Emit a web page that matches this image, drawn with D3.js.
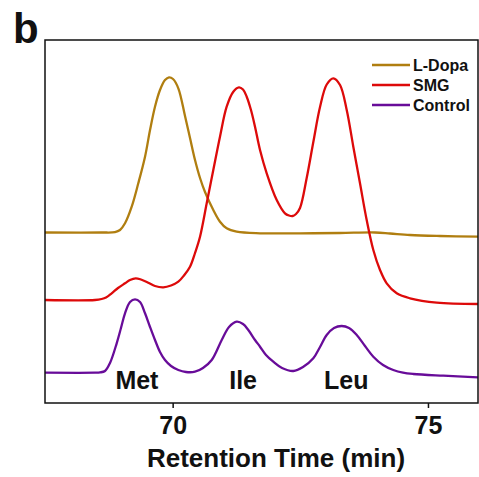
<!DOCTYPE html>
<html><head><meta charset="utf-8">
<script src="https://d3js.org/d3.v7.min.js"></script>
<style>body{margin:0;background:#fff}svg{display:block}text{font-family:"Liberation Sans",Arial,sans-serif;font-weight:bold}</style>
</head><body>
<script>
// Retention time (min) and signal (a.u.) for each trace
const ldopaTime = [67.500,68.600,68.871,68.969,69.067,69.198,69.327,69.459,69.557,69.654,69.752,69.850,69.929,70.007,70.111,70.242,70.340,70.438,70.536,70.634,70.796,70.927,71.058,71.254,71.711,72.494,73.278,73.963,74.257,74.648,75.236,75.980];
const ldopaSignal = [170.5,170.5,170.9,173,179.7,196.3,219.7,246.3,273,296.3,313,323,325.7,324,314.7,287,265,243,225,211,193,181.3,174.7,171.3,169.7,169.7,170,170.5,169.5,168,167,166.3];

const smgTime = [67.500,68.479,68.610,68.695,68.806,68.930,69.067,69.165,69.276,69.380,69.523,69.654,69.817,69.968,70.111,70.222,70.340,70.438,70.536,70.667,70.796,70.927,71.058,71.188,71.299,71.378,71.450,71.534,71.613,71.711,71.842,72.038,72.200,72.278,72.351,72.416,72.494,72.625,72.755,72.886,73.017,73.147,73.278,73.409,73.538,73.669,73.800,73.930,74.061,74.192,74.388,74.648,75.171,75.980];
const smgSignal = [103,103,104,105.5,109.7,115,119.7,123,124.7,123.5,120.3,117,115.7,117.5,121.3,127.5,136.3,150,166.3,199.7,233,266.3,296.3,311.3,315.7,313.5,306.3,293,276.3,253,229.7,203,189.7,187.5,187,189,195,225,261,296,318.5,324.7,318,293,256.3,219.7,183,153,133,119.7,109.7,104.7,100.3,99];

const controlTime = [67.500,68.480,68.577,68.675,68.773,68.904,68.988,69.067,69.165,69.263,69.361,69.459,69.557,69.654,69.752,69.850,69.968,70.111,70.261,70.438,70.594,70.765,70.961,71.104,71.254,71.378,71.482,71.613,71.711,71.828,71.971,72.142,72.363,72.553,72.755,72.886,73.017,73.160,73.311,73.454,73.605,73.767,73.930,74.120,74.321,74.511,74.713,75.301,75.980];
const controlSignal = [30.3,30.3,30.6,32,40,59.7,75,89.7,101,103.7,101,89.7,76,63,51,43,37,33,31,31.3,35,43,63,76,81.3,79,73,63,56.3,48,41.3,35,32,36,44.7,56,68,75,77,75,68,57,46.3,38,33,30.3,29,27.3,25.7];

const seriesNames = ["L-Dopa","SMG","Control"];
const seriesColors = ["#B07E10","#DD0A0A","#680C99"];
const xTicks = [70,75];
const peakLabels = ["Met","Ile","Leu"];
const peakTimes = [69.30,71.38,73.40];
const xTitle = "Retention Time (min)";
const panelLetter = "b";

const W = 479, H = 477;
const svg = d3.select("body").append("svg").attr("width",W).attr("height",H);
const x = d3.scaleLinear().domain([67.5,75.98]).range([45,478]);
const y = d3.scaleLinear().domain([0,363]).range([403,40]);

const series = [
  {name:seriesNames[0], t:ldopaTime, v:ldopaSignal, c:seriesColors[0]},
  {name:seriesNames[1], t:smgTime, v:smgSignal, c:seriesColors[1]},
  {name:seriesNames[2], t:controlTime, v:controlSignal, c:seriesColors[2]}
];
const line = d3.line().x(d=>x(d[0])).y(d=>y(d[1])).curve(d3.curveCatmullRom.alpha(0.5));

svg.append("defs").append("clipPath").attr("id","clip")
  .append("rect").attr("x",45).attr("y",40).attr("width",433).attr("height",363);
const g = svg.append("g").attr("clip-path","url(#clip)");
[series[2],series[0],series[1]].forEach(s=>{
  g.append("path").datum(s.t.map((t,i)=>[t,s.v[i]]))
    .attr("d",line).attr("fill","none").attr("stroke",s.c).attr("stroke-width",2.3)
    .attr("stroke-linejoin","round");
});

// frame
svg.append("rect").attr("x",45).attr("y",40).attr("width",433).attr("height",363)
  .attr("fill","none").attr("stroke","#111").attr("stroke-width",1.5);

// x axis
const xAxis = d3.axisBottom(x).tickValues(xTicks).tickSize(5).tickPadding(4).tickSizeOuter(0);
const ax = svg.append("g").attr("transform","translate(0,403)").call(xAxis);
ax.select(".domain").remove();
ax.selectAll(".tick line").attr("stroke","#111").attr("stroke-width",1.5);
ax.selectAll(".tick text").attr("font-size",25).attr("fill","#111")
  .attr("font-family","Liberation Sans, Arial, sans-serif").attr("font-weight","bold")
  .attr("dy",null).attr("y",31);

svg.append("text").attr("x",276).attr("y",467).attr("text-anchor","middle")
  .attr("font-size",26).attr("fill","#111").text(xTitle);

// peak labels
peakLabels.forEach((p,i)=>{
  svg.append("text").attr("x",x(peakTimes[i])).attr("y",389).attr("text-anchor","middle")
    .attr("font-size",25).attr("fill","#111").text(p);
});

// legend
series.forEach((s,i)=>{
  const yy = 65 + i*20;
  svg.append("line").attr("x1",372).attr("x2",410).attr("y1",yy).attr("y2",yy)
    .attr("stroke",s.c).attr("stroke-width",2.3);
  svg.append("text").attr("x",413).attr("y",yy+5.5).attr("font-size",16).attr("fill","#111").text(s.name);
});

svg.append("text").attr("x",13).attr("y",43).attr("font-size",42).attr("fill","#111").text(panelLetter);
</script>
</body></html>
